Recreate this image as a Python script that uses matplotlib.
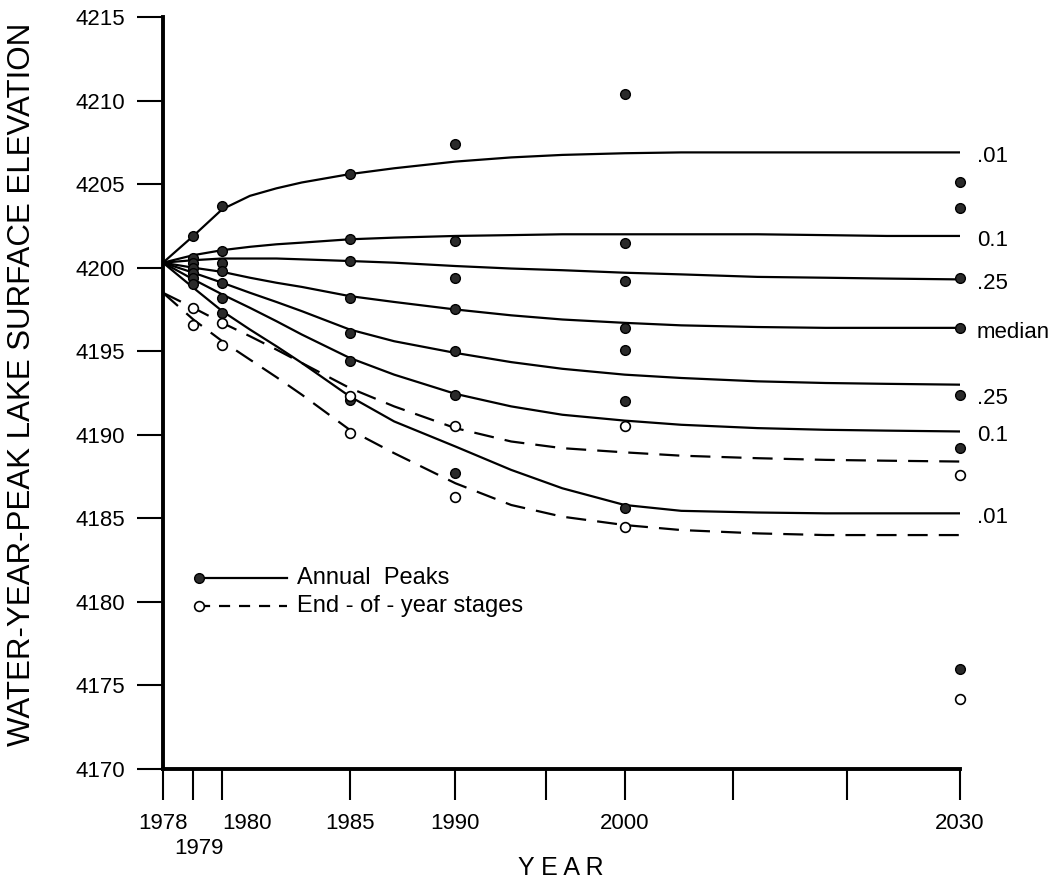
import numpy as np
import matplotlib
matplotlib.use("Agg")
import matplotlib.pyplot as plt

plt.rcParams['font.family'] = ['Liberation Sans', 'DejaVu Sans']

# ---------------- data ----------------
curve_years = [1978, 1979, 1980, 1981, 1982, 1983, 1985, 1987, 1990, 1993, 1996,
               2000, 2004, 2010, 2016, 2022, 2030]

peak_curves = {
    ".01 high": [4200.3, 4201.9, 4203.5, 4204.3, 4204.75, 4205.1, 4205.6, 4205.95, 4206.35,
                 4206.6, 4206.75, 4206.85, 4206.9, 4206.9, 4206.9, 4206.9, 4206.9],
    "0.1 high": [4200.3, 4200.75, 4201.05, 4201.25, 4201.4, 4201.5, 4201.7, 4201.8, 4201.9,
                 4201.95, 4202.0, 4202.0, 4202.0, 4202.0, 4201.95, 4201.9, 4201.9],
    ".25 high": [4200.3, 4200.45, 4200.55, 4200.55, 4200.55, 4200.5, 4200.4, 4200.3, 4200.1,
                 4199.95, 4199.85, 4199.7, 4199.6, 4199.45, 4199.4, 4199.35, 4199.3],
    "median":   [4200.3, 4200.0, 4199.75, 4199.4, 4199.1, 4198.85, 4198.3, 4197.95, 4197.5,
                 4197.15, 4196.9, 4196.7, 4196.55, 4196.45, 4196.4, 4196.4, 4196.4],
    ".25 low":  [4200.3, 4199.7, 4199.1, 4198.5, 4197.95, 4197.4, 4196.3, 4195.6, 4194.9,
                 4194.35, 4193.95, 4193.6, 4193.4, 4193.2, 4193.1, 4193.05, 4193.0],
    "0.1 low":  [4200.3, 4199.3, 4198.4, 4197.6, 4196.8, 4196.0, 4194.6, 4193.6, 4192.45,
                 4191.7, 4191.2, 4190.85, 4190.6, 4190.4, 4190.3, 4190.25, 4190.2],
    ".01 low":  [4200.3, 4198.8, 4197.4, 4196.3, 4195.3, 4194.3, 4192.3, 4190.8, 4189.3,
                 4187.9, 4186.8, 4185.8, 4185.45, 4185.35, 4185.3, 4185.3, 4185.3],
}
curve_labels = [".01", "0.1", ".25", "median", ".25", "0.1", ".01"]

eoy_upper = [4198.5, 4197.6, 4196.7, 4195.9, 4195.1, 4194.3, 4192.8, 4191.7, 4190.4,
             4189.6, 4189.2, 4188.95, 4188.75, 4188.6, 4188.5, 4188.45, 4188.4]
eoy_lower = [4198.5, 4196.9, 4195.6, 4194.5, 4193.45, 4192.4, 4190.3, 4188.9, 4187.1,
             4185.8, 4185.1, 4184.6, 4184.3, 4184.1, 4184.0, 4184.0, 4184.0]

point_years = [1979, 1980, 1985, 1990, 2000, 2030]
peak_points = [
    [4201.9, 4200.6, 4200.3, 4200.0, 4199.7, 4199.4, 4199.0],   # 1979
    [4203.7, 4201.0, 4200.3, 4199.8, 4199.1, 4198.2, 4197.3],   # 1980
    [4205.6, 4201.7, 4200.4, 4198.2, 4196.1, 4194.4, 4192.1],   # 1985
    [4207.4, 4201.6, 4199.4, 4197.5, 4195.0, 4192.4, 4187.7],   # 1990
    [4210.4, 4201.5, 4199.2, 4196.4, 4195.1, 4192.0, 4185.6],   # 2000
    [4205.1, 4203.6, 4199.4, 4196.4, 4192.4, 4189.2, 4176.0],   # 2030
]
eoy_points = [
    [4197.6, 4196.6],   # 1979
    [4196.7, 4195.4],   # 1980
    [4192.3, 4190.1],   # 1985
    [4190.5, 4186.3],   # 1990
    [4190.5, 4184.5],   # 2000
    [4187.6, 4174.2],   # 2030
]

major_years = [1978, 1979, 1980, 1985, 1990, 2000, 2030]
minor_years = [1995, 2008, 2018]
y_ticks = list(range(4170, 4216, 5))

# ---------------- figure ----------------
fig = plt.figure(figsize=(10.63, 8.88), dpi=100)
ax = fig.add_axes([0.1533, 0.1340, 0.7498, 0.8468])


def fwd(x):
    x = np.asarray(x, dtype=float)
    return np.log(np.maximum(x - 1958.0, 1e-6))


def inv(y):
    return np.exp(np.asarray(y, dtype=float)) + 1958.0


ax.set_xscale('function', functions=(fwd, inv))
ax.set_xlim(1978, 2030)
ax.set_ylim(4170, 4215)

lw = 1.6
for vals in peak_curves.values():
    ax.plot(curve_years, vals, color='black', lw=lw, solid_joinstyle='round', zorder=2)
for vals in (eoy_upper, eoy_lower):
    ax.plot(curve_years, vals, color='black', lw=lw, linestyle=(0, (9, 5)), zorder=2)

for yr, vals in zip(point_years, peak_points):
    ax.plot([yr] * len(vals), vals, linestyle='none', marker='o', ms=7,
            mfc='#2a2a2a', mec='black', mew=1.0, clip_on=False, zorder=4)
for yr, vals in zip(point_years, eoy_points):
    ax.plot([yr] * len(vals), vals, linestyle='none', marker='o', ms=7,
            mfc='white', mec='black', mew=1.2, clip_on=False, zorder=4)

# right-hand labels
label_dy = [-3, -3, -3, -3, -10, -3, -3]
for vals, lab, dy in zip(peak_curves.values(), curve_labels, label_dy):
    ax.annotate(lab, xy=(2030, vals[-1]), xytext=(12, dy), textcoords='offset points',
                ha='left', va='center', fontsize=16, annotation_clip=False)

# legend (drawn manually)
ax.plot([0.045, 0.156], [0.254, 0.254], transform=ax.transAxes, color='black', lw=lw)
ax.plot([0.045], [0.254], transform=ax.transAxes, marker='o', ms=7,
        mfc='#2a2a2a', mec='black', zorder=5)
ax.plot([0.045, 0.156], [0.217, 0.217], transform=ax.transAxes, color='black', lw=lw,
        linestyle=(0, (5, 4)))
ax.plot([0.045], [0.217], transform=ax.transAxes, marker='o', ms=7,
        mfc='white', mec='black', mew=1.2, zorder=5)
ax.text(0.168, 0.254, "Annual  Peaks", transform=ax.transAxes, fontsize=17, va='center')
ax.text(0.168, 0.217, "End - of - year stages", transform=ax.transAxes, fontsize=17,
        va='center')

# axes styling
for s in ('top', 'right'):
    ax.spines[s].set_visible(False)
ax.spines['left'].set_linewidth(2.8)
ax.spines['bottom'].set_linewidth(2.8)

ax.set_yticks(y_ticks)
ax.set_yticklabels([str(v) for v in y_ticks])
ax.tick_params(axis='y', direction='out', length=19, width=1.5, pad=8, labelsize=16)

ax.set_xticks(major_years)
ax.set_xticklabels(["" if y == 1979 else str(y) for y in major_years])
ax.set_xticks(minor_years, minor=True)
ax.tick_params(axis='x', which='both', direction='out', length=22, width=1.5, pad=10,
               labelsize=16)
for t in ax.get_xticklabels():
    if t.get_text() == "1980":
        t.set_horizontalalignment('left')

# staggered 1979 label under the axis
ax.annotate("1979", xy=(1979, 0), xycoords=ax.get_xaxis_transform(),
            xytext=(4, -50), textcoords='offset points', ha='center', va='top',
            fontsize=16, annotation_clip=False)

fig.text(22 / 1063, 1 - 384 / 888, "WATER-YEAR-PEAK LAKE SURFACE ELEVATION",
         rotation=90, ha='center', va='center', fontsize=22.5)
fig.text(561 / 1063, 1 - 868 / 888, "Y E A R", ha='center', va='center', fontsize=18)

fig.savefig("out.png", dpi=100)
